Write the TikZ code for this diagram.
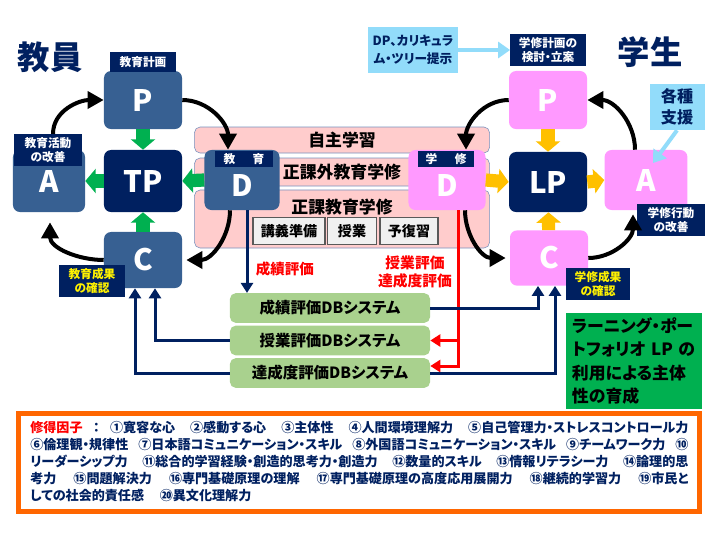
\documentclass[tikz,border=0pt]{standalone}
\usepackage{fontspec}
\setmainfont{Noto Sans CJK JP}[RawFeature=+palt]
\usepackage{tikz}
\usetikzlibrary{positioning}
\usetikzlibrary{calc}
\usetikzlibrary{arrows.meta}
\definecolor{navy}{RGB}{0,32,96}
\definecolor{steel}{RGB}{55,96,146}
\definecolor{lppink}{RGB}{255,153,255}
\definecolor{bandpink}{RGB}{255,204,204}
\definecolor{bandline}{RGB}{120,146,190}
\definecolor{dbgreen}{RGB}{169,209,142}
\definecolor{lpgreen}{RGB}{0,176,80}
\definecolor{arrowgold}{RGB}{255,192,0}
\definecolor{sky}{RGB}{146,220,250}
\definecolor{frameorange}{RGB}{255,102,0}
\newcommand{\jfont}[2]{\fontsize{#1}{#2}\selectfont\bfseries}
\tikzset{
cycbox/.style={ % the P, D, C, A boxes
  rounded corners=5pt,
  minimum width=1.95cm, minimum height=1.45cm,
  text=white, font=\jfont{21}{21}},
tagbox/.style={ % small dark labels on the boxes
  fill=navy, text=white, inner sep=2pt,
  align=center, font=\jfont{8.3}{10.5}},
band/.style={ % pink learning bands
  fill=bandpink, draw=bandline, rounded corners=4pt,
  minimum width=7.375cm, font=\jfont{12}{12}},
subbox/.style={
  fill=gray!12, draw=gray!70!black, line width=0.8pt,
  minimum height=0.675cm, font=\jfont{10}{10}},
dbbox/.style={
  fill=dbgreen, rounded corners=4pt,
  minimum width=5cm, minimum height=0.74cm, font=\jfont{11}{11}},
blockarrow/.style={ % short fat arrows between boxes
  line width=0.33cm, -{Triangle[length=0.26cm,width=0.6cm]}},
cyc/.style={ % thick black curved arrows
  line width=0.1cm, -{Triangle[length=0.4cm,width=0.42cm]}},
dbline/.style={
  draw=navy, line width=0.075cm, -{Triangle[length=0.25cm,width=0.3cm]}},
evalline/.style={
  draw=red, line width=0.075cm, -{Triangle[length=0.25cm,width=0.3cm]}},
skyline/.style={
  draw=sky, line width=0.1cm, -{Triangle[length=0.3cm,width=0.4cm]}}
}
\begin{document}
\begin{tikzpicture}[x=0.025cm, y=-0.025cm]
\useasboundingbox (0,0) rectangle (720,540);
\node[text=navy, font=\jfont{23}{23}] (kyoin) at (50,57) {教員};
\node[text=navy, font=\jfont{23}{23}] (gakusei) at (650,52) {学生};

\node[band, minimum height=0.65cm] (jishu) at (342,140) {自主学習};
\node[band, minimum height=0.7cm] (kagai) at (342,172) {正課外教育学修};
\node[band, minimum height=1.45cm] (seika) at (342,219) {};
\node[font=\jfont{12}{12}] (seikat) at (342,207) {正課教育学修};
\node[subbox, minimum width=1.8cm] (kogi) at (289,231) {講義準備};
\node[subbox, minimum width=1.22cm] (jugyo) at (352,231) {授業};
\node[subbox, minimum width=1.45cm] (yofuku) at (409,231) {予復習};

\node[cycbox, fill=steel] (eP) at (143,100) {P};
\node[cycbox, fill=navy, minimum height=1.55cm] (eTP) at (143,181) {TP};
\node[cycbox, fill=steel, minimum width=1.8cm, minimum height=1.55cm] (eA) at (49,181) {A};
\node[cycbox, fill=steel, minimum height=1.4cm] (eC) at (143,260) {C};
\node[cycbox, fill=steel, minimum width=1.875cm, minimum height=1.5cm,
  text height=0.8cm, text depth=0pt] (eD) at (242,180) {D};
\node[tagbox, minimum width=1.65cm, minimum height=0.5cm] (ePt) at (143,62) {教育計画};
\node[tagbox, minimum width=1.68cm] (eAt) at (48,150) {教育活動\\の改善};
\node[tagbox, text=yellow, minimum width=1.63cm] (eCt) at (92,281) {教育成果\\の確認};
\node[tagbox, minimum width=1.43cm, minimum height=0.4cm] (eDt) at (244,159) {教\hspace{1.5em}育};

\node[cycbox, fill=lppink] (sP) at (548,100) {P};
\node[cycbox, fill=navy, minimum height=1.5cm] (sLP) at (548,182) {LP};
\node[cycbox, fill=lppink, minimum width=2.07cm, minimum height=1.5cm] (sA) at (646,180) {A};
\node[cycbox, fill=lppink, minimum height=1.38cm] (sC) at (549,258) {C};
\node[cycbox, fill=lppink, minimum width=1.925cm, minimum height=1.5cm,
  text height=0.8cm, text depth=0pt] (sD) at (447,180) {D};
\node[tagbox, minimum width=1.88cm] (sPt) at (548,50) {学修計画の\\検討・立案};
\node[tagbox, minimum width=1.68cm] (sAt) at (671,220) {学修行動\\の改善};
\node[tagbox, text=yellow, minimum width=1.6cm] (sCt) at (598,284) {学修成果\\の確認};
\node[tagbox, minimum width=1.38cm, minimum height=0.4cm] (sDt) at (446,159) {学\hspace{1.5em}修};

\draw[blockarrow, draw=lpgreen] (eP) -- (eTP);
\draw[blockarrow, draw=lpgreen] (eD.west) -- (eTP.east);
\draw[blockarrow, draw=lpgreen] (eTP) -- (eA);
\draw[blockarrow, draw=lpgreen] (eC) -- (eTP);
\draw[blockarrow, draw=arrowgold] (sP) -- (sLP);
\draw[blockarrow, draw=arrowgold] (sD.east) -- (sLP.west);
\draw[blockarrow, draw=arrowgold] (sLP.east) -- (sA.west);
\draw[blockarrow, draw=arrowgold] (sC) -- (sLP);

\draw[cyc] ($(eAt.north)+(5,0)$) to[out=90, in=180] (eP.west);
\draw[cyc] (eP.east) to[out=0, in=90] ($(eD.north)+(-14,0)$);
\draw[cyc] ($(eD.south)+(-12,0)$) to[out=-90, in=0] ($(eC.east)+(4,0)$);
\draw[cyc] (eC.west) to[out=180, in=-90] ($(eA.south)+(1,10)$);
\draw[cyc] (sP.west) to[out=180, in=90] ($(sD.north)+(19,0)$);
\draw[cyc] ($(sD.south)+(18,0)$) to[out=-90, in=180] ($(sC.west)+(-4,0)$);
\draw[cyc] (sC.east) to[out=0, in=-90] ($(sA.south)+(-13,4)$);
\draw[cyc] ($(sA.north)+(-11,0)$) to[out=90, in=0] (sP.east);

\node[dbbox] (db1) at (330,308) {成績評価DBシステム};
\node[dbbox] (db2) at (330,340.5) {授業評価DBシステム};
\node[dbbox] (db3) at (330,373) {達成度評価DBシステム};

\coordinate (seiL) at (247,0);
\draw[dbline] (eD.south -| seiL) -- (db1.north -| seiL);
\node[text=red, anchor=west, font=\jfont{10.3}{12}] (seit) at (251,269) {成績評価};
\coordinate (evR) at (458,366);
\draw[evalline] (sD.south -| evR) |- ($(db3.east)+(0,-7)$);
\draw[evalline] (evR |- db2.east) -- (db2.east);
\node[text=red, align=center, font=\jfont{10.5}{13}] (evt) at (415,272) {授業評価\\達成度評価};
\draw[dbline] (db1.east) -| ($(sC.south)+(-11,0)$);
\draw[dbline] (db3.east) -| ($(sC.south)+(6,0)$);
\draw[dbline] (db2.west) -| ($(eC.south)+(12,0)$);
\draw[dbline] (db3.west) -| ($(eC.south)+(-8,0)$);

\node[fill=sky, text=navy, align=center, minimum width=2.25cm, minimum height=1.125cm,
  font=\jfont{9}{12.5}] (dp) at (413,50) {DP、カリキュラ\\ム・ツリー提示};
\draw[skyline] (dp.east) -- (sPt.west);
\node[fill=sky, text=navy, align=center, minimum width=1.375cm, minimum height=1.125cm,
  font=\jfont{11.5}{15}] (shien) at (677,107) {各種\\支援};
\draw[skyline] (shien.south) -- ($(sA.center)+(7,-17)$);

\node[fill=lpgreen, minimum width=3.375cm, minimum height=2.325cm, align=left,
  text width=3.1cm, font=\jfont{12}{16.4}] (lpbox) at (634,361)
  {ラーニング・ポー\\トフォリオ LP の\\利用による主体\\性の育成};

\node[draw=frameorange, line width=0.125cm, minimum width=17cm, minimum height=2.425cm] (factors) at (359,462.5) {};
\node[anchor=north west, inner sep=0pt, align=left, text=navy, font=\jfont{9.3}{12.1}] (factt) at (30,421)
  {\makebox[16.45cm][s]{{\color{red}修得因子}\hspace{0.8em}：\hspace{0.8em}①寛容な心 ②感動する心 ③主体性 ④人間環境理解力 ⑤自己管理力・ストレスコントロール力}\\
   \makebox[16.45cm][s]{⑥倫理観・規律性 ⑦日本語コミュニケーション・スキル ⑧外国語コミュニケーション・スキル ⑨チームワーク力 ⑩}\\
   \makebox[16.45cm][s]{リーダーシップ力 ⑪総合的学習経験・創造的思考力・創造力 ⑫数量的スキル ⑬情報リテラシー力 ⑭論理的思}\\
   \makebox[16.45cm][s]{考力 ⑮問題解決力 ⑯専門基礎原理の理解 ⑰専門基礎原理の高度応用展開力 ⑱継続的学習力 ⑲市民と}\\
   しての社会的責任感\hspace{1.2em}⑳異文化理解力};
\end{tikzpicture}
\end{document}
